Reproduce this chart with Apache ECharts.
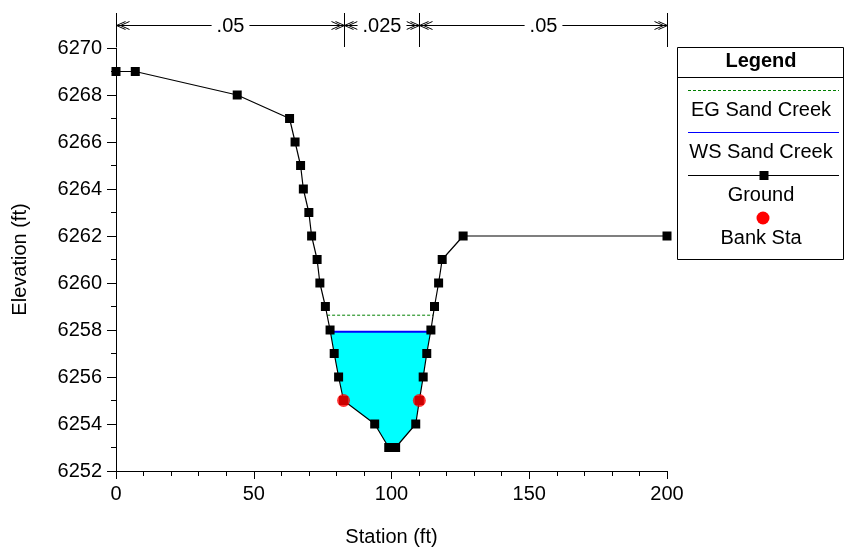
<!DOCTYPE html>
<html><head><meta charset="utf-8">
<script src="https://cdn.jsdelivr.net/npm/echarts@6/dist/echarts.min.js"></script>
<style>html,body{margin:0;padding:0;background:#fff}#c{width:845px;height:553px}</style>
</head><body><div id="c"></div>
<script>
// ---- data ----
const station   = [0, 7, 44, 63, 65, 67, 68, 70, 71, 73, 74, 76, 77.7, 79.2, 80.8, 82.6, 93.9, 99, 101.5, 108.8, 110.1, 111.5, 112.8, 114.3, 115.6, 117.1, 118.4, 126, 200];
const elevation = [6269, 6269, 6268, 6267, 6266, 6265, 6264, 6263, 6262, 6261, 6260, 6259, 6258, 6257, 6256, 6255, 6254, 6253, 6253, 6254, 6255, 6256, 6257, 6258, 6259, 6260, 6261, 6262, 6262];
const bankStation   = [82.6, 110.1];
const bankElevation = [6255, 6255];
const wsElevation = 6257.93;
const egElevation = 6258.63;
const nBreaks = [0, 82.6, 110.1, 200];
const nValues = ['.05', '.025', '.05'];
const legendLabels = ['Legend', 'EG Sand Creek', 'WS Sand Creek', 'Ground', 'Bank Sta'];

// ---- helpers ----
function crossings(level) {
  const xs = [];
  for (let i = 0; i < station.length - 1; i++) {
    const e1 = elevation[i], e2 = elevation[i + 1];
    if ((e1 - level) * (e2 - level) < 0) {
      const t = (level - e1) / (e2 - e1);
      xs.push(station[i] + t * (station[i + 1] - station[i]));
    }
  }
  return xs;
}
const wsX = crossings(wsElevation);
const egX = crossings(egElevation);
const waterPoly = [[wsX[0], wsElevation]];
station.forEach((s, i) => { if (s > wsX[0] && s < wsX[1] && elevation[i] < wsElevation) waterPoly.push([s, elevation[i]]); });
waterPoly.push([wsX[1], wsElevation]);

const groundData = station.map((s, i) => [s, elevation[i]]);
const bankData = bankStation.map((s, i) => [s, bankElevation[i]]);
const nSegs = nValues.map((v, i) => [nBreaks[i], nBreaks[i + 1], 6270]);

const FONT = 'Arial, "Liberation Sans", sans-serif';
const FS = 20;
const chart = echarts.init(document.getElementById('c'), null, {renderer: 'canvas'});

const legendX = 677.5, legendY = 47.5, legendW = 166, legendH = 212, cx = 761;
const txt = (t, y, bold) => ({type: 'text', x: cx, y: y, style: {text: t, align: 'center', verticalAlign: 'middle', fontSize: FS, fontWeight: bold ? 'bold' : 'normal', fontFamily: FONT, fill: '#000'}, z: 100});

chart.setOption({
  animation: false,
  backgroundColor: '#fff',
  grid: {left: 116, right: 178, top: 48, bottom: 82, containLabel: false},
  xAxis: {
    type: 'value', min: 0, max: 200, interval: 50,
    name: 'Station (ft)', nameLocation: 'middle', nameGap: 56,
    nameTextStyle: {fontSize: FS, fontFamily: FONT, color: '#000'},
    axisLine: {onZero: false, lineStyle: {color: '#000', width: 1}},
    axisTick: {show: true, length: 8, inside: false, lineStyle: {color: '#000'}},
    minorTick: {show: true, splitNumber: 5, length: 5, lineStyle: {color: '#000'}},
    axisLabel: {fontSize: FS, fontFamily: FONT, color: '#000', margin: 13},
    splitLine: {show: false}, minorSplitLine: {show: false}
  },
  yAxis: {
    type: 'value', min: 6252, max: 6270, interval: 2,
    name: 'Elevation (ft)', nameLocation: 'middle', nameGap: 86, nameRotate: 90,
    nameTextStyle: {fontSize: FS, fontFamily: FONT, color: '#000'},
    axisLine: {show: true, onZero: false, lineStyle: {color: '#000', width: 1}},
    axisTick: {show: true, length: 9, lineStyle: {color: '#000'}},
    minorTick: {show: true, splitNumber: 2, length: 5, lineStyle: {color: '#000'}},
    axisLabel: {fontSize: FS, fontFamily: FONT, color: '#000', margin: 14, formatter: v => String(v)},
    splitLine: {show: false}, minorSplitLine: {show: false}
  },
  series: [
    {
      type: 'custom', name: 'water', z: 1, silent: true,
      data: waterPoly, encode: {x: 0, y: 1},
      renderItem: function (params, api) {
        if (params.dataIndex !== 0) return null;
        return {type: 'polygon', shape: {points: waterPoly.map(p => api.coord(p))}, style: {fill: '#00ffff', stroke: null}};
      }
    },
    {
      type: 'line', name: 'EG Sand Creek', z: 2, silent: true, symbol: 'none',
      data: [[egX[0], egElevation], [egX[1], egElevation]],
      lineStyle: {color: '#008000', width: 1, type: [3, 2]}
    },
    {
      type: 'line', name: 'WS Sand Creek', z: 3, silent: true, symbol: 'none',
      data: [[wsX[0], wsElevation], [wsX[1], wsElevation]],
      lineStyle: {color: '#0000ff', width: 2}
    },
    {
      type: 'line', name: 'Ground', z: 4, silent: true,
      data: groundData, symbol: 'rect', symbolSize: 9, showAllSymbol: true,
      itemStyle: {color: '#000'}, lineStyle: {color: '#000', width: 1.2}
    },
    {
      type: 'scatter', name: 'Bank Sta', z: 5, silent: true,
      data: bankData, symbol: 'circle', symbolSize: 13,
      itemStyle: {color: '#ff0000'}
    },
    {
      type: 'custom', name: 'n', z: 6, silent: true, clip: false,
      data: nSegs, encode: {x: [0, 1], y: 2},
      renderItem: function (params, api) {
        const p1 = api.coord([api.value(0), api.value(2)]);
        const p2 = api.coord([api.value(1), api.value(2)]);
        const top = p1[1];
        const x1 = Math.round(p1[0]) + 0.5, x2 = Math.round(p2[0]) + 0.5;
        const y = Math.round(top - 23) + 0.5;
        const st = {stroke: '#000', lineWidth: 1, fill: null};
        const ch = [];
        ch.push({type: 'line', shape: {x1: x1, y1: top - 35, x2: x1, y2: top - 1}, style: st});
        ch.push({type: 'line', shape: {x1: x2, y1: top - 35, x2: x2, y2: top - 1}, style: st});
        ch.push({type: 'line', shape: {x1: x1, y1: y, x2: x2, y2: y}, style: st});
        [0, 4].forEach(o => {
          ch.push({type: 'polyline', shape: {points: [[x1 + o + 9, y - 4], [x1 + o, y], [x1 + o + 9, y + 4]]}, style: st});
          ch.push({type: 'polyline', shape: {points: [[x2 - o - 9, y - 4], [x2 - o, y], [x2 - o - 9, y + 4]]}, style: st});
        });
        ch.push({type: 'text', style: {text: nValues[params.dataIndex], x: (x1 + x2) / 2, y: y + 1, align: 'center', verticalAlign: 'middle', fontSize: FS, fontFamily: FONT, fill: '#000', backgroundColor: '#fff', padding: [0, 5]}});
        return {type: 'group', children: ch};
      }
    }
  ],
  graphic: [
    {type: 'rect', shape: {x: legendX, y: legendY, width: legendW, height: legendH}, style: {fill: '#fff', stroke: '#000', lineWidth: 1}, z: 99},
    {type: 'line', shape: {x1: legendX, y1: 77.5, x2: legendX + legendW, y2: 77.5}, style: {stroke: '#000', lineWidth: 1}, z: 100},
    txt(legendLabels[0], 61, true),
    {type: 'line', shape: {x1: 688, y1: 90.5, x2: 839, y2: 90.5}, style: {stroke: '#008000', lineWidth: 1, lineDash: [3, 2]}, z: 100},
    txt(legendLabels[1], 110),
    {type: 'line', shape: {x1: 688, y1: 132.5, x2: 839, y2: 132.5}, style: {stroke: '#0000ff', lineWidth: 1}, z: 100},
    txt(legendLabels[2], 152),
    {type: 'line', shape: {x1: 688, y1: 175.5, x2: 839, y2: 175.5}, style: {stroke: '#000', lineWidth: 1}, z: 100},
    {type: 'rect', shape: {x: 759.5, y: 171, width: 9, height: 9}, style: {fill: '#000'}, z: 101},
    txt(legendLabels[3], 195),
    {type: 'circle', shape: {cx: 763, cy: 218, r: 6.5}, style: {fill: '#ff0000'}, z: 100},
    txt(legendLabels[4], 238)
  ]
});
</script>
</body></html>
